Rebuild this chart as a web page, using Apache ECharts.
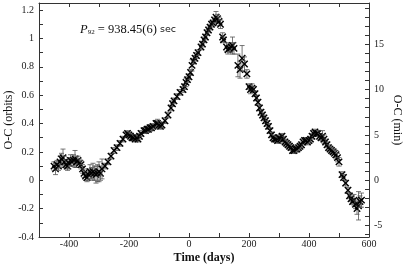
<!DOCTYPE html>
<html>
<head>
<meta charset="utf-8">
<script src="https://cdn.jsdelivr.net/npm/echarts@6/dist/echarts.min.js"></script>
<style>html,body{margin:0;padding:0;background:#fff}#c{width:403px;height:265px}</style>
</head>
<body>
<div id="c"></div>
<script>
// Time (days)
const timeDays = [-450,-445,-440,-435,-430,-425,-420,-415,-410,-405,-400,-395,-390,-385,-380,-375,-370,-365,-360,-355,-350,-345,-340,-335,-330,-325,-320,-315,-310,-305,-300,-295,-290,
-280,-270,-260,-250,-240,-230,-220,-210,-205,-200,-195,-190,-185,-180,-175,-170,-165,-160,-150,-145,-140,-135,-130,-125,-120,-110,-105,-100,-95,-90,-80,-70,-60,-55,-50,-40,-30,-20,-15,-10,-5,
0,5,10,15,20,25,30,40,45,50,55,60,65,70,75,80,85,90,95,100,105,112,115,125,130,135,140,145,150,163,170,177,185,193,200,205,210,215,220,225,230,235,240,245,250,255,260,265,270,275,280,285,290,295,300,305,310,315,320,325,330,335,340,345,350,355,360,365,370,375,380,385,390,395,400,405,410,415,420,425,430,435,440,445,450,455,460,465,470,475,480,485,490,495,500,510,515,522,530,535,540,545,550,555,560,565,570,575];
// O-C (orbits)
const ocOrbits = [0.10,0.08,0.11,0.10,0.13,0.15,0.16,0.13,0.11,0.10,0.12,0.14,0.13,0.14,0.15,0.13,0.14,0.12,0.11,0.08,0.05,0.03,0.02,0.04,0.06,0.05,0.06,0.05,0.04,0.05,0.06,0.05,0.08,
0.10,0.13,0.17,0.21,0.23,0.26,0.29,0.32,0.33,0.32,0.31,0.30,0.30,0.29,0.30,0.29,0.31,0.33,0.35,0.35,0.36,0.36,0.37,0.37,0.38,0.40,0.40,0.39,0.38,0.39,0.42,0.46,0.51,0.54,0.56,0.59,0.62,0.64,0.66,0.69,0.71,
0.73,0.76,0.81,0.84,0.86,0.88,0.90,0.94,0.96,0.99,1.01,1.04,1.06,1.08,1.10,1.11,1.13,1.15,1.14,1.12,1.10,1.01,0.99,0.94,0.92,0.93,0.94,0.95,0.93,0.81,0.78,0.86,0.82,0.75,0.66,0.64,0.65,0.64,0.61,0.58,0.55,0.51,0.48,0.46,0.44,0.42,0.40,0.38,0.35,0.32,0.30,0.29,0.29,0.28,0.30,0.29,0.31,0.29,0.27,0.26,0.25,0.24,0.23,0.21,0.21,0.22,0.22,0.23,0.24,0.25,0.27,0.28,0.28,0.27,0.28,0.29,0.31,0.33,0.34,0.33,0.33,0.31,0.30,0.31,0.29,0.27,0.25,0.23,0.22,0.21,0.20,0.19,0.18,0.16,0.13,0.04,0.02,-0.02,-0.07,-0.11,-0.13,-0.15,-0.14,-0.17,-0.20,-0.18,-0.15,-0.14];
// Error (orbits)
const ocError = [0.03,0.04,0.03,0.03,0.04,0.04,0.06,0.04,0.03,0.03,0.04,0.04,0.03,0.04,0.06,0.04,0.03,0.03,0.03,0.03,0.03,0.03,0.03,0.04,0.05,0.04,0.06,0.05,0.06,0.06,0.07,0.05,0.07,
0.02,0.02,0.02,0.02,0.02,0.02,0.02,0.02,0.02,0.02,0.02,0.02,0.02,0.02,0.02,0.02,0.02,0.02,0.02,0.02,0.02,0.02,0.02,0.02,0.02,0.02,0.03,0.02,0.02,0.02,0.02,0.02,0.02,0.02,0.02,0.02,0.02,0.02,0.02,0.03,0.02,
0.02,0.02,0.04,0.02,0.02,0.02,0.02,0.02,0.02,0.02,0.02,0.02,0.02,0.02,0.02,0.02,0.02,0.04,0.03,0.03,0.03,0.03,0.02,0.03,0.03,0.03,0.03,0.06,0.04,0.08,0.06,0.09,0.05,0.03,0.02,0.03,0.03,0.02,0.02,0.02,0.02,0.02,0.02,0.02,0.02,0.02,0.02,0.02,0.02,0.02,0.02,0.02,0.02,0.02,0.02,0.03,0.02,0.02,0.02,0.02,0.02,0.02,0.02,0.02,0.02,0.02,0.02,0.02,0.02,0.02,0.02,0.02,0.02,0.02,0.02,0.02,0.02,0.02,0.02,0.02,0.02,0.02,0.02,0.04,0.03,0.02,0.02,0.02,0.02,0.02,0.02,0.03,0.03,0.03,0.03,0.02,0.02,0.02,0.02,0.02,0.02,0.02,0.04,0.03,0.04,0.10,0.04,0.05];

const periodSec = 938.45;
const xLabels = [-400,-200,0,200,400,600];
const xTicks = [-500,-400,-300,-200,-100,0,100,200,300,400,500,600];
const yLabels = [-0.4,-0.2,0,0.2,0.4,0.6,0.8,1,1.2];
const yTicks = [-0.4,-0.3,-0.2,-0.1,0,0.1,0.2,0.3,0.4,0.5,0.6,0.7,0.8,0.9,1.0,1.1,1.2];
const minLabels = [-5,0,5,10,15];
const minTicks = [-6,-5,-4,-3,-2,-1,0,1,2,3,4,5,6,7,8,9,10,11,12,13,14,15,16,17,18,19];

const yMin = -0.4, yMax = 1.25;
const minPerOrbit = periodSec / 60;

const data = timeDays.map((t, i) => [t, ocOrbits[i], ocError[i]]);

const font = 'Liberation Serif';
const axCol = '#333';
const chart = echarts.init(document.getElementById('c'), null, {renderer: 'canvas'});
chart.setOption({
  animation: false,
  backgroundColor: '#fff',
  grid: {left: 39, right: 34, top: 3, bottom: 28, show: false, containLabel: false, outerBoundsMode: 'none'},
  xAxis: [{
    type: 'value', min: -500, max: 600, interval: 100, position: 'bottom',
    name: 'Time (days)', nameLocation: 'middle', nameGap: 15, nameMoveOverlap: false,
    nameTextStyle: {fontFamily: font, fontSize: 12, fontWeight: 'bold', color: '#111'},
    axisLine: {show: true, onZero: false, lineStyle: {color: axCol, width: 1}},
    axisTick: {show: true, inside: true, length: 4, customValues: xTicks, lineStyle: {color: axCol}},
    axisLabel: {customValues: xLabels, fontFamily: font, fontSize: 10, color: '#222', margin: 2},
    splitLine: {show: false}
  }, {
    type: 'value', min: -500, max: 600, interval: 100, position: 'top',
    axisLine: {show: true, onZero: false, lineStyle: {color: axCol, width: 1}},
    axisTick: {show: true, inside: true, length: 4, customValues: xTicks, lineStyle: {color: axCol}},
    axisLabel: {show: false}, splitLine: {show: false}
  }],
  yAxis: [{
    type: 'value', min: yMin, max: yMax, position: 'left',
    name: 'O-C (orbits)', nameLocation: 'middle', nameGap: 24, nameRotate: 90, nameMoveOverlap: false,
    nameTextStyle: {fontFamily: font, fontSize: 12, color: '#111'},
    axisLine: {show: true, onZero: false, lineStyle: {color: axCol, width: 1}},
    axisTick: {show: true, inside: true, length: 4, customValues: yTicks, lineStyle: {color: axCol}},
    axisLabel: {customValues: yLabels, fontFamily: font, fontSize: 10, color: '#222', margin: 5},
    splitLine: {show: false}
  }, {
    type: 'value', min: yMin * minPerOrbit, max: yMax * minPerOrbit, position: 'right',
    name: 'O-C (min)', nameLocation: 'middle', nameGap: 22, nameRotate: -90, nameMoveOverlap: false,
    nameTextStyle: {fontFamily: font, fontSize: 12, color: '#111'},
    axisLine: {show: true, onZero: false, lineStyle: {color: axCol, width: 1}},
    axisTick: {show: true, inside: true, length: 4, customValues: minTicks, lineStyle: {color: axCol}},
    axisLabel: {customValues: minLabels, fontFamily: font, fontSize: 10, color: '#222', margin: 5},
    splitLine: {show: false}
  }],
  graphic: [{
    type: 'text', left: 80, top: 23,
    style: {
      text: '{p|P}{s|92}{n| = 938.45(6) }{u|sec}',
      rich: {
        p: {fontFamily: font, fontStyle: 'italic', fontSize: 12.5, fill: '#111'},
        s: {fontFamily: font, fontSize: 7, fill: '#111', verticalAlign: 'bottom', padding: [6, 0, 0, 0]},
        n: {fontFamily: font, fontSize: 12.5, fill: '#111'},
        u: {fontFamily: 'DejaVu Sans', fontSize: 9.5, fill: '#111'}
      }
    }
  }],
  series: [{
    type: 'custom', xAxisIndex: 0, yAxisIndex: 0, data: data, clip: true,
    encode: {x: 0, y: 1},
    renderItem: function (params, api) {
      const x = api.value(0), y = api.value(1), e = api.value(2);
      const p = api.coord([x, y]);
      const t = api.coord([x, y + e]);
      const b = api.coord([x, y - e]);
      const s = 3.2, c = 2.5;
      const ebar = {stroke: '#555', lineWidth: 0.8};
      const cross = {stroke: '#000', lineWidth: 1.4};
      return {type: 'group', children: [
        {type: 'line', shape: {x1: p[0], y1: t[1], x2: p[0], y2: b[1]}, style: ebar},
        {type: 'line', shape: {x1: p[0] - c, y1: t[1], x2: p[0] + c, y2: t[1]}, style: ebar},
        {type: 'line', shape: {x1: p[0] - c, y1: b[1], x2: p[0] + c, y2: b[1]}, style: ebar},
        {type: 'line', shape: {x1: p[0] - s, y1: p[1] - s, x2: p[0] + s, y2: p[1] + s}, style: cross},
        {type: 'line', shape: {x1: p[0] - s, y1: p[1] + s, x2: p[0] + s, y2: p[1] - s}, style: cross}
      ]};
    }
  }]
});
</script>
</body>
</html>
